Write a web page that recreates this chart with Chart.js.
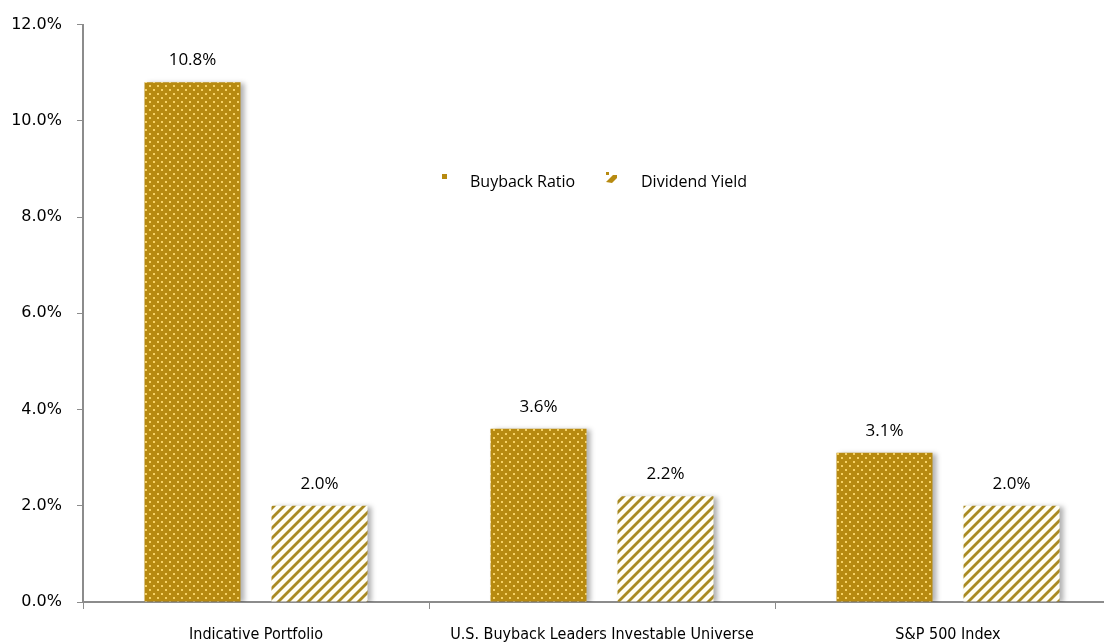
<!DOCTYPE html>
<html>
<head>
<meta charset="utf-8">
<script src="https://cdn.jsdelivr.net/npm/chart.js@4"></script>
<style>
  html, body { margin: 0; padding: 0; background: #fff; overflow: hidden; }
  #wrap { width: 1122px; height: 643px; position: relative; }
</style>
</head>
<body>
<div id="wrap"><canvas id="chart"></canvas></div>
<script>
const categories = ["Indicative Portfolio", "U.S. Buyback Leaders Investable Universe", "S&P 500 Index"];
const buybackRatio = [10.8, 3.6, 3.1];
const dividendYield = [2.0, 2.2, 2.0];
const seriesNames = ["Buyback Ratio", "Dividend Yield"];
const yTicks = [0, 2, 4, 6, 8, 10, 12];

const gold = "#B78A10";

function dotPattern() {
    const c = document.createElement("canvas");
    c.width = 8; c.height = 8;
    const g = c.getContext("2d");
    g.fillStyle = gold;
    g.fillRect(0, 0, 8, 8);
    g.fillStyle = "#F6D163";
    g.fillRect(1, 1, 2, 2);
    g.fillRect(5, 5, 2, 2);
    return g.createPattern(c, "repeat");
}

function stripePattern() {
    const c = document.createElement("canvas");
    c.width = 10; c.height = 10;
    const g = c.getContext("2d");
    g.fillStyle = "#FFFEF4";
    g.fillRect(0, 0, 10, 10);
    g.strokeStyle = "#A98A22";
    g.lineWidth = 2.8;
    for (let k = -1; k <= 1; k++) {
        g.beginPath();
        g.moveTo(k * 10 - 2, 12);
        g.lineTo(k * 10 + 12, -2);
        g.stroke();
    }
    return g.createPattern(c, "repeat");
}

const labelPlugin = {
    id: "valueLabels",
    afterDatasetsDraw(chart) {
        const ctx = chart.ctx;
        ctx.save();
        ctx.font = "17px 'Open Sans', Calibri, sans-serif";
        ctx.fillStyle = "#000";
        ctx.textAlign = "center";
        ctx.textBaseline = "middle";
        chart.data.datasets.forEach((ds, i) => {
            chart.getDatasetMeta(i).data.forEach((bar, j) => {
                ctx.fillText(ds.data[j].toFixed(1) + "%", bar.x, bar.y - 22);
            });
        });
        ctx.restore();
    }
};

const shadowPlugin = {
    id: "barShadow",
    beforeDatasetsDraw(chart) {
        const ctx = chart.ctx;
        ctx.save();
        ctx.shadowColor = "rgba(0,0,0,0.3)";
        ctx.shadowBlur = 5;
        ctx.shadowOffsetX = 4;
        ctx.shadowOffsetY = 1;
    },
    afterDatasetsDraw(chart) {
        chart.ctx.restore();
    }
};

const legendPlugin = {
    id: "innerLegend",
    afterDraw(chart) {
        const ctx = chart.ctx;
        ctx.save();
        ctx.font = "16px 'Open Sans', Calibri, sans-serif";
        ctx.textBaseline = "middle";
        const y = 182;
        ctx.fillStyle = gold;
        ctx.fillRect(442, 174, 5, 5);
        ctx.fillStyle = "#000";
        ctx.fillText(seriesNames[0], 470, y);
        ctx.fillStyle = gold;
        ctx.beginPath();
        ctx.moveTo(606, 182); ctx.lineTo(613, 175); ctx.lineTo(617, 175);
        ctx.lineTo(617, 178); ctx.lineTo(612, 183); ctx.closePath();
        ctx.fill();
        ctx.fillRect(606, 172, 3, 3);
        ctx.fillStyle = "#000";
        ctx.fillText(seriesNames[1], 641, y);
        ctx.restore();
    }
};

new Chart(document.getElementById("chart"), {
    type: "bar",
    data: {
        labels: categories,
        datasets: [
            { label: seriesNames[0], data: buybackRatio, backgroundColor: dotPattern(), borderWidth: 0 },
            { label: seriesNames[1], data: dividendYield, backgroundColor: stripePattern(), borderWidth: 0 }
        ]
    },
    options: {
        responsive: true,
        maintainAspectRatio: false,
        animation: false,
        layout: { padding: { top: 19, left: 0, right: 1, bottom: 0 } },
        categoryPercentage: 0.734,
        barPercentage: 0.756,
        plugins: {
            legend: { display: false },
            tooltip: { enabled: false }
        },
        scales: {
            x: {
                afterFit: axis => { axis.height = 41; },
                grid: { display: true, drawOnChartArea: false, offset: true, color: "#8c8c8c", tickLength: 7 },
                border: { color: "#8c8c8c", width: 2 },
                ticks: {
                    color: "#000",
                    padding: 16,
                    font: { family: "'Liberation Sans Narrow', 'Arial Narrow', 'DejaVu Sans Condensed', sans-serif", size: 16 }
                }
            },
            y: {
                min: 0, max: 12,
                afterFit: axis => { axis.width = 83; },
                afterBuildTicks: axis => { axis.ticks = yTicks.map(v => ({ value: v })); },
                grid: { display: true, drawOnChartArea: false, color: "#8c8c8c", tickLength: 6 },
                border: { color: "#8c8c8c", width: 2 },
                ticks: {
                    color: "#000",
                    padding: 15,
                    font: { family: "'DejaVu Sans', Verdana, sans-serif", size: 16 },
                    callback: v => v.toFixed(1) + "%"
                }
            }
        }
    },
    plugins: [shadowPlugin, labelPlugin, legendPlugin]
});
</script>
</body>
</html>
